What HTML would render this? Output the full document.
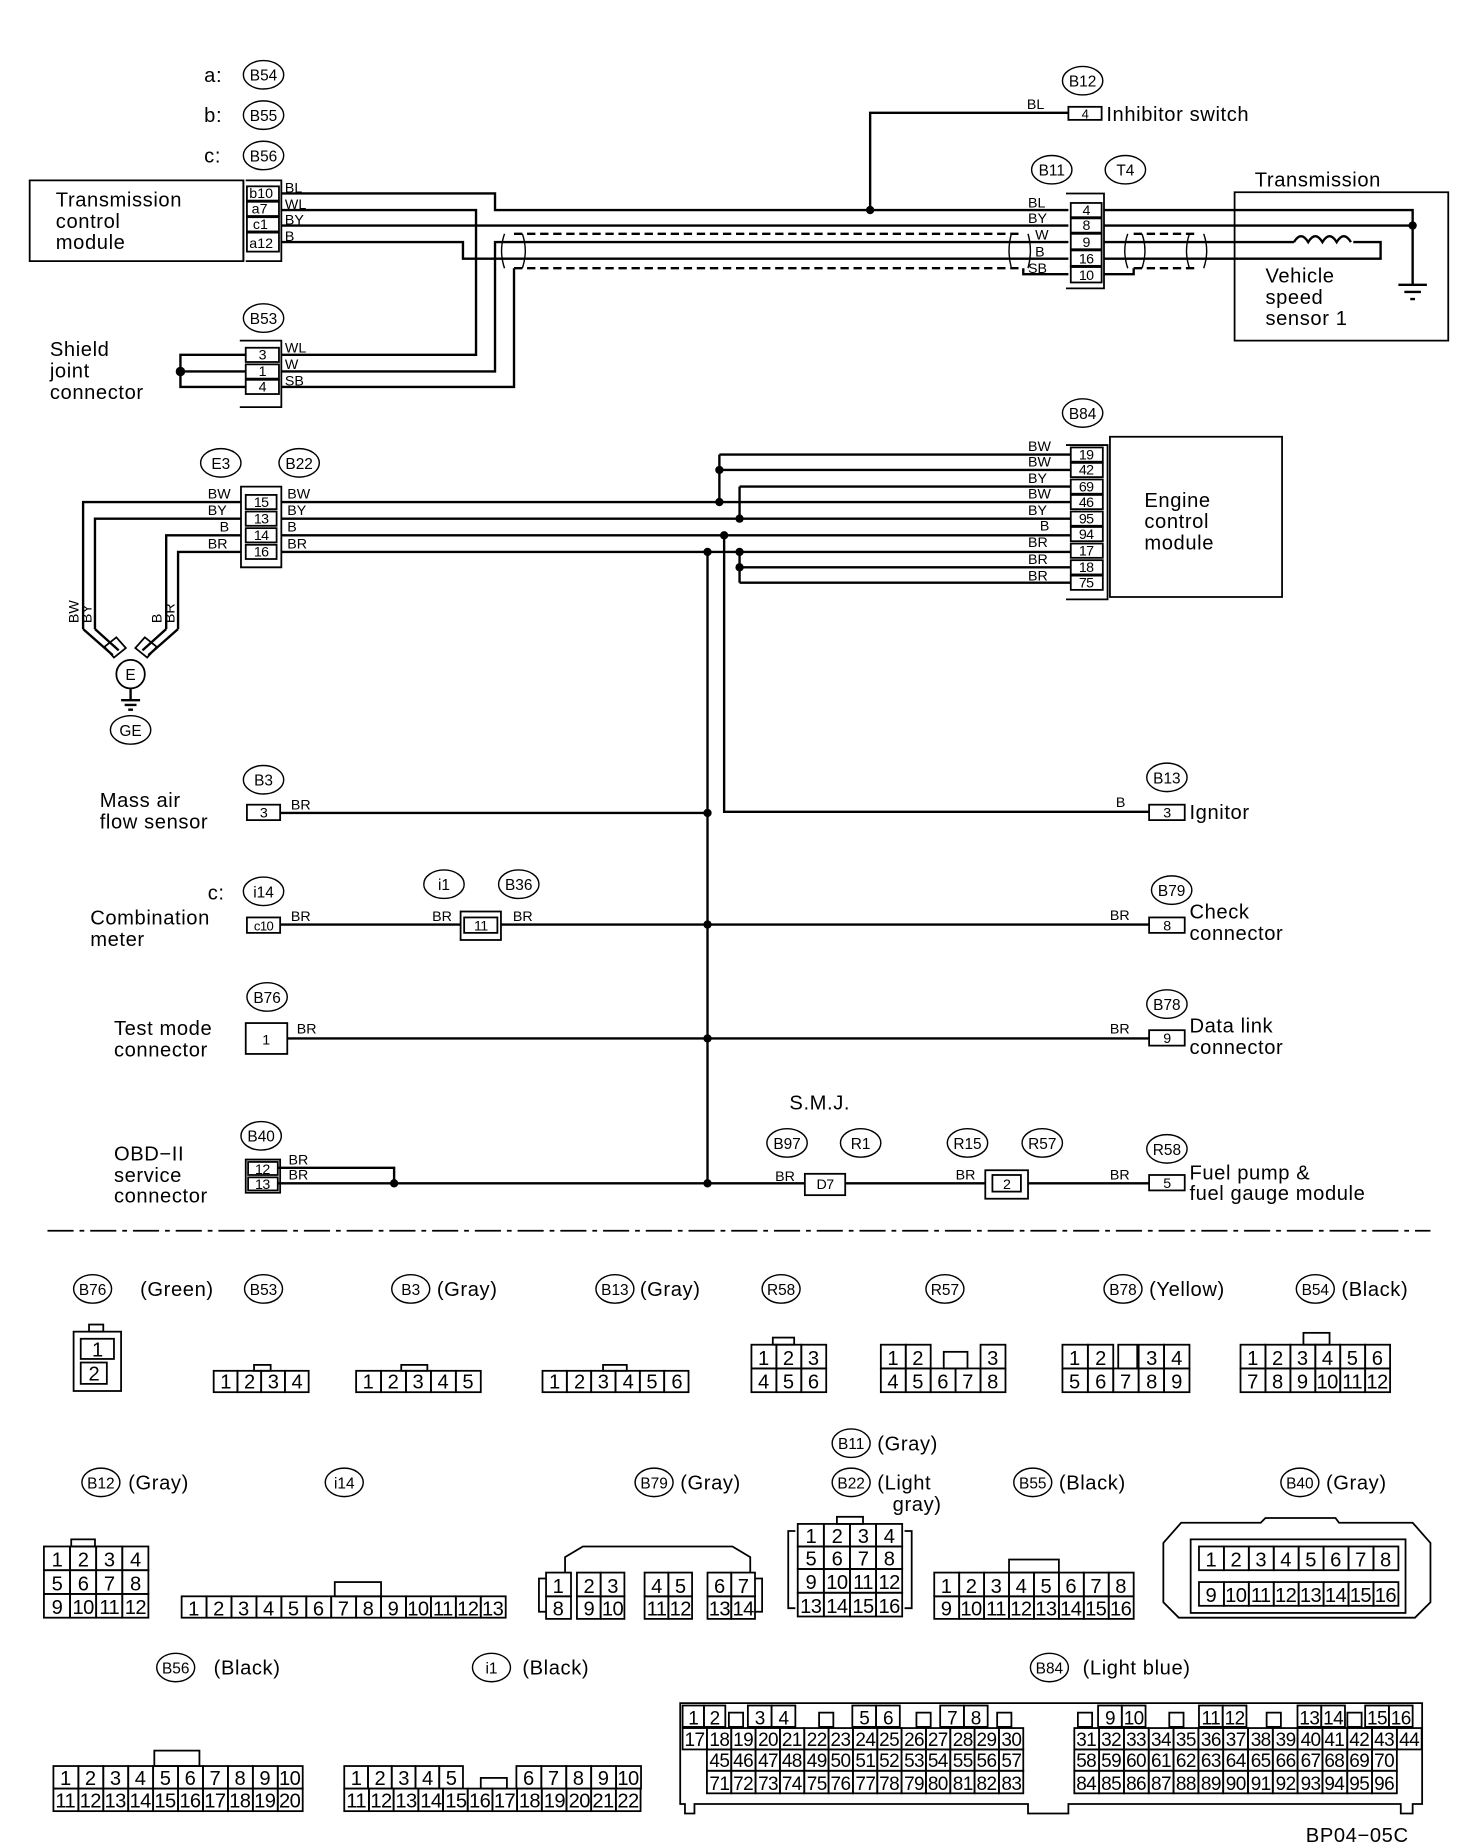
<!DOCTYPE html>
<html><head><meta charset="utf-8"><style>
html,body{margin:0;padding:0;background:#fff}
svg{display:block}
text{font-family:"Liberation Sans",sans-serif;fill:#000}
.t{font-size:17px;letter-spacing:0.5px}
.s{font-size:12px}
.e{font-size:13px;text-anchor:middle}
.n{font-size:14px;text-anchor:middle;letter-spacing:-0.5px}
.w{fill:none;stroke:#000;stroke-width:2}
.d{fill:none;stroke:#000;stroke-width:2;stroke-dasharray:7 4}
.b{fill:none;stroke:#000;stroke-width:1.5}
.c rect{fill:none;stroke:#000;stroke-width:1.5}
.l{fill:none;stroke:#000;stroke-width:1.2}
</style></head><body>
<svg width="1472" height="1842" viewBox="0 0 1240 1552" preserveAspectRatio="none" xmlns="http://www.w3.org/2000/svg">
<g class="l">
<ellipse cx="222" cy="63" rx="17" ry="12"/><ellipse cx="222" cy="97" rx="17" ry="12"/><ellipse cx="222" cy="131" rx="17" ry="12"/>
<ellipse cx="912" cy="68" rx="17" ry="12"/><ellipse cx="886" cy="143" rx="17" ry="12"/><ellipse cx="948" cy="143" rx="17" ry="12"/>
<ellipse cx="222" cy="268" rx="17" ry="12"/><ellipse cx="912" cy="348" rx="17" ry="12"/>
<ellipse cx="186" cy="390" rx="17" ry="12"/><ellipse cx="252" cy="390" rx="17" ry="12"/>
<ellipse cx="110" cy="615" rx="17" ry="12"/>
<ellipse cx="222" cy="657" rx="17" ry="12"/><ellipse cx="983" cy="655" rx="17" ry="12"/>
<ellipse cx="222" cy="751" rx="17" ry="12"/><ellipse cx="374" cy="745" rx="17" ry="12"/><ellipse cx="437" cy="745" rx="17" ry="12"/><ellipse cx="987" cy="750" rx="17" ry="12"/>
<ellipse cx="225" cy="840" rx="17" ry="12"/><ellipse cx="983" cy="846" rx="17" ry="12"/>
<ellipse cx="220" cy="957" rx="17" ry="12"/><ellipse cx="663" cy="963" rx="17" ry="12"/><ellipse cx="725" cy="963" rx="17" ry="12"/><ellipse cx="815" cy="963" rx="17" ry="12"/><ellipse cx="878" cy="963" rx="17" ry="12"/><ellipse cx="983" cy="968" rx="17" ry="12"/>
<ellipse cx="78" cy="1086" rx="16" ry="12"/><ellipse cx="222" cy="1086" rx="16" ry="12"/><ellipse cx="346" cy="1086" rx="16" ry="12"/><ellipse cx="518" cy="1086" rx="16" ry="12"/><ellipse cx="658" cy="1086" rx="16" ry="12"/><ellipse cx="796" cy="1086" rx="16" ry="12"/><ellipse cx="946" cy="1086" rx="16" ry="12"/><ellipse cx="1108" cy="1086" rx="16" ry="12"/>
<ellipse cx="85" cy="1249" rx="16" ry="12"/><ellipse cx="290" cy="1249" rx="16" ry="12"/><ellipse cx="551" cy="1249" rx="16" ry="12"/><ellipse cx="717" cy="1216" rx="16" ry="12"/><ellipse cx="717" cy="1249" rx="16" ry="12"/><ellipse cx="870" cy="1249" rx="16" ry="12"/><ellipse cx="1095" cy="1249" rx="16" ry="12"/>
<ellipse cx="148" cy="1405" rx="16" ry="12"/><ellipse cx="414" cy="1405" rx="16" ry="12"/><ellipse cx="884" cy="1405" rx="16" ry="12"/>
</g>
<g class="e">
<text x="222" y="68">B54</text><text x="222" y="102">B55</text><text x="222" y="136">B56</text>
<text x="912" y="73">B12</text><text x="886" y="148">B11</text><text x="948" y="148">T4</text>
<text x="222" y="273">B53</text><text x="912" y="353">B84</text><text x="186" y="395">E3</text><text x="252" y="395">B22</text>
<text x="110" y="620">GE</text><text x="222" y="662">B3</text><text x="983" y="660">B13</text>
<text x="222" y="756">i14</text><text x="374" y="750">i1</text><text x="437" y="750">B36</text><text x="987" y="755">B79</text>
<text x="225" y="845">B76</text><text x="983" y="851">B78</text>
<text x="220" y="962">B40</text><text x="663" y="968">B97</text><text x="725" y="968">R1</text><text x="815" y="968">R15</text><text x="878" y="968">R57</text><text x="983" y="973">R58</text>
<text x="78" y="1091">B76</text><text x="222" y="1091">B53</text><text x="346" y="1091">B3</text><text x="518" y="1091">B13</text><text x="658" y="1091">R58</text><text x="796" y="1091">R57</text><text x="946" y="1091">B78</text><text x="1108" y="1091">B54</text>
<text x="85" y="1254">B12</text><text x="290" y="1254">i14</text><text x="551" y="1254">B79</text><text x="717" y="1221">B11</text><text x="717" y="1254">B22</text><text x="870" y="1254">B55</text><text x="1095" y="1254">B40</text>
<text x="148" y="1410">B56</text><text x="414" y="1410">i1</text><text x="884" y="1410">B84</text>
</g>
<g class="t">
<text x="172" y="69">a:</text><text x="172" y="103">b:</text><text x="172" y="137">c:</text>
<text x="932" y="102">Inhibitor switch</text>
<text x="47" y="174">Transmission</text><text x="47" y="192">control</text><text x="47" y="210">module</text>
<text x="1057" y="157">Transmission</text>
<text x="1066" y="238">Vehicle</text><text x="1066" y="256">speed</text><text x="1066" y="274">sensor 1</text>
<text x="42" y="300">Shield</text><text x="42" y="318">joint</text><text x="42" y="336">connector</text>
<text x="964" y="427">Engine</text><text x="964" y="445">control</text><text x="964" y="463">module</text>
<text x="84" y="680">Mass air</text><text x="84" y="698">flow sensor</text>
<text x="1002" y="690">Ignitor</text>
<text x="175" y="758">c:</text>
<text x="76" y="779">Combination</text><text x="76" y="797">meter</text>
<text x="1002" y="774">Check</text><text x="1002" y="792">connector</text>
<text x="96" y="872">Test mode</text><text x="96" y="890">connector</text>
<text x="1002" y="870">Data link</text><text x="1002" y="888">connector</text>
<text x="96" y="978">OBD−II</text><text x="96" y="996">service</text><text x="96" y="1013">connector</text>
<text x="665" y="935">S.M.J.</text>
<text x="1002" y="994">Fuel pump &amp;</text><text x="1002" y="1011">fuel gauge module</text>
<text x="118" y="1092">(Green)</text><text x="368" y="1092">(Gray)</text><text x="539" y="1092">(Gray)</text><text x="968" y="1092">(Yellow)</text><text x="1130" y="1092">(Black)</text>
<text x="108" y="1255">(Gray)</text><text x="573" y="1255">(Gray)</text><text x="739" y="1222">(Gray)</text><text x="739" y="1255">(Light</text><text x="752" y="1273">gray)</text><text x="892" y="1255">(Black)</text><text x="1117" y="1255">(Gray)</text>
<text x="180" y="1411">(Black)</text><text x="440" y="1411">(Black)</text><text x="912" y="1411">(Light blue)</text>
<text x="1100" y="1552">BP04−05C</text>
</g>
<path class="b" d="M25 152H205V220H25Z"/>
<path class="b" d="M205 152V220M207 152H237V220H207"/>
<g class="c"><rect x="208" y="157" width="27" height="12"/><rect x="208" y="170" width="27" height="12"/><rect x="208" y="183" width="27" height="12"/><rect x="208" y="196" width="27" height="16"/></g>
<g class="s"><text x="210" y="167">b10</text><text x="212" y="180">a7</text><text x="213" y="193">c1</text><text x="210" y="209">a12</text>
<text x="240" y="162">BL</text><text x="240" y="176">WL</text><text x="240" y="189">BY</text><text x="240" y="203">B</text></g>
<path class="w" d="M237 163H417V177H900"/>
<path class="w" d="M237 177H401V299H237"/>
<path class="w" d="M237 190H900"/>
<path class="w" d="M237 204H390V218H900"/>
<path class="w" d="M237 313H417V204H900"/>
<path class="w" d="M237 326H433V226"/>
<path class="d" d="M433 197H860M433 226H860"/>
<path class="l" d="M425 197Q420 211 425 226M440 197Q445 211 440 226M852 197Q848 211 852 226M866 197Q870 211 866 226"/>
<path class="w" d="M862 226V231H900"/>
<path class="w" d="M733 177V95H900"/>
<circle cx="733" cy="177" r="3.5"/>
<text class="s" x="865" y="92">BL</text>
<rect class="b" x="900" y="90" width="28" height="11"/><text class="n" x="914" y="100" style="font-size:11px">4</text>
<path class="b" d="M898 163H930V243H898"/>
<g class="c"><rect x="902" y="171" width="26" height="12"/><rect x="902" y="184" width="26" height="12"/><rect x="902" y="197" width="26" height="13"/><rect x="902" y="211" width="26" height="13"/><rect x="902" y="225" width="26" height="13"/></g>
<g class="n" style="font-size:12px"><text x="915" y="181">4</text><text x="915" y="194">8</text><text x="915" y="208">9</text><text x="915" y="222">16</text><text x="915" y="236">10</text></g>
<g class="s"><text x="866" y="175">BL</text><text x="866" y="188">BY</text><text x="872" y="202">W</text><text x="872" y="216">B</text><text x="866" y="230">SB</text></g>
<path class="w" d="M930 177H1190V240M930 190H1190M930 204H1090M1140 204H1163V218H930"/>
<path class="w" d="M1090 204q6 -10 12 0q6 -10 12 0q6 -10 12 0q6 -10 12 0"/>
<path class="w" d="M1178 240H1202M1183 246H1197M1188 252H1192"/>
<circle cx="1190" cy="190" r="3.5"/>
<path class="d" d="M955 197H1008M955 226H1008"/>
<path class="l" d="M950 197Q945 211 950 226M962 197Q967 211 962 226M1002 197Q997 211 1002 226M1014 197Q1019 211 1014 226"/>
<path class="w" d="M930 231H955V226"/>
<path class="b" d="M1040 162H1220V287H1040Z"/>
<path class="b" d="M202 287H237V343H202"/>
<g class="c"><rect x="207" y="293" width="28" height="12"/><rect x="207" y="307" width="28" height="12"/><rect x="207" y="320" width="28" height="12"/></g>
<g class="n" style="font-size:12px"><text x="221" y="303">3</text><text x="221" y="317">1</text><text x="221" y="330">4</text></g>
<g class="s"><text x="240" y="297">WL</text><text x="240" y="311">W</text><text x="240" y="325">SB</text></g>
<path class="w" d="M207 299H152V326H207M152 313H207"/><circle cx="152" cy="313" r="4"/>
<path class="b" d="M935 368H1080V503H935Z"/>
<path class="b" d="M898 375H933V505H898"/>
<g class="c"><rect x="902" y="377" width="27" height="12"/><rect x="902" y="390" width="27" height="12"/><rect x="902" y="404" width="27" height="12"/><rect x="902" y="417" width="27" height="12"/><rect x="902" y="431" width="27" height="12"/><rect x="902" y="444" width="27" height="12"/><rect x="902" y="458" width="27" height="12"/><rect x="902" y="472" width="27" height="12"/><rect x="902" y="485" width="27" height="12"/></g>
<g class="n" style="font-size:12px"><text x="915" y="387">19</text><text x="915" y="400">42</text><text x="915" y="414">69</text><text x="915" y="427">46</text><text x="915" y="441">95</text><text x="915" y="454">94</text><text x="915" y="468">17</text><text x="915" y="482">18</text><text x="915" y="495">75</text></g>
<g class="s"><text x="866" y="380">BW</text><text x="866" y="393">BW</text><text x="866" y="407">BY</text><text x="866" y="420">BW</text><text x="866" y="434">BY</text><text x="876" y="447">B</text><text x="866" y="461">BR</text><text x="866" y="475">BR</text><text x="866" y="489">BR</text></g>
<path class="w" d="M606 383H902M606 396H902M623 410H902M606 423H902M623 437H902M237 451H902M623 465H902M623 478H902M623 491H902"/>
<path class="w" d="M606 383V423M623 410V437M623 465V491M237 423H606M237 437H623M237 465H623"/>
<circle cx="606" cy="396" r="3.5"/><circle cx="606" cy="423" r="3.5"/><circle cx="623" cy="437" r="3.5"/><circle cx="610" cy="451" r="3.5"/><circle cx="623" cy="465" r="3.5"/><circle cx="623" cy="478" r="3.5"/><circle cx="596" cy="465" r="3.5"/>
<path class="b" d="M203 410H237V478H203Z"/>
<g class="c"><rect x="207" y="417" width="26" height="12"/><rect x="207" y="431" width="26" height="12"/><rect x="207" y="445" width="26" height="12"/><rect x="207" y="459" width="26" height="12"/></g>
<g class="n" style="font-size:12px"><text x="220" y="427">15</text><text x="220" y="441">13</text><text x="220" y="455">14</text><text x="220" y="469">16</text></g>
<g class="s"><text x="175" y="420">BW</text><text x="175" y="434">BY</text><text x="185" y="448">B</text><text x="175" y="462">BR</text>
<text x="242" y="420">BW</text><text x="242" y="434">BY</text><text x="242" y="448">B</text><text x="242" y="462">BR</text></g>
<path class="w" d="M203 423H70V530M203 437H80V530M203 451H140V530M203 465H150V530"/>
<g class="s"><text transform="translate(66 525) rotate(-90)">BW</text><text transform="translate(77 525) rotate(-90)">BY</text><text transform="translate(136 525) rotate(-90)">B</text><text transform="translate(147 525) rotate(-90)">BR</text></g>
<path class="w" d="M70 530L95 552M80 530L100 548M140 530L120 548M150 530L125 552"/>
<path class="b" d="M88 545l10 -8l8 9l-10 8zM132 545l-10 -8l-8 9l10 8z"/>
<circle class="b" cx="110" cy="568" r="12"/><text class="e" x="110" y="573">E</text>
<path class="w" d="M110 580V590M102 590H118M105 594H115M108 598H112"/>
<path class="w" d="M596 465V997M610 451V684H968"/>
<circle cx="596" cy="685" r="3.5"/><circle cx="596" cy="779" r="3.5"/><circle cx="596" cy="875" r="3.5"/><circle cx="596" cy="997" r="3.5"/>
<rect class="b" x="208" y="678" width="28" height="13"/><text class="n" x="222" y="689" style="font-size:12px">3</text>
<text class="s" x="245" y="682">BR</text><path class="w" d="M236 685H596"/>
<text class="s" x="940" y="680">B</text><rect class="b" x="968" y="678" width="30" height="13"/><text class="n" x="983" y="689" style="font-size:12px">3</text>
<rect class="b" x="208" y="773" width="28" height="13"/><text class="n" x="222" y="784" style="font-size:11px">c10</text>
<text class="s" x="245" y="776">BR</text><path class="w" d="M236 779H388M422 779H968"/>
<rect class="b" x="388" y="768" width="34" height="24"/><rect class="b" x="391" y="773" width="28" height="13"/><text class="n" x="405" y="784" style="font-size:12px">11</text>
<text class="s" x="364" y="776">BR</text><text class="s" x="432" y="776">BR</text><text class="s" x="935" y="775">BR</text>
<rect class="b" x="968" y="773" width="30" height="13"/><text class="n" x="983" y="784" style="font-size:12px">8</text>
<rect class="b" x="207" y="862" width="35" height="26"/><text class="n" x="224" y="880" style="font-size:12px">1</text>
<text class="s" x="250" y="871">BR</text><path class="w" d="M242 875H968"/><text class="s" x="935" y="871">BR</text>
<rect class="b" x="968" y="868" width="30" height="13"/><text class="n" x="983" y="879" style="font-size:12px">9</text>
<path class="b" d="M207 977H236V1005H207Z"/>
<g class="c"><rect x="209" y="979" width="25" height="11"/><rect x="209" y="992" width="25" height="11"/></g>
<g class="n" style="font-size:12px"><text x="221" y="989">12</text><text x="221" y="1002">13</text></g>
<g class="s"><text x="243" y="981">BR</text><text x="243" y="994">BR</text></g>
<path class="w" d="M234 984H332V997M234 997H678"/><circle cx="332" cy="997" r="3.5"/>
<text class="s" x="653" y="995">BR</text>
<rect class="b" x="678" y="989" width="34" height="18"/><text class="n" x="695" y="1002" style="font-size:12px">D7</text>
<path class="w" d="M712 997H830M866 997H968"/>
<text class="s" x="805" y="994">BR</text><text class="s" x="935" y="994">BR</text>
<rect class="b" x="830" y="986" width="36" height="24"/><rect class="b" x="836" y="990" width="24" height="14"/><text class="n" x="848" y="1002" style="font-size:12px">2</text>
<rect class="b" x="968" y="990" width="30" height="13"/><text class="n" x="983" y="1001" style="font-size:12px">5</text>
<path d="M40 1037H1205" stroke="#000" stroke-width="1.5" stroke-dasharray="22 5 4 5"/>

<g class="c">
<rect x="62" y="1122" width="40" height="50"/><rect x="68" y="1128" width="28" height="17"/><rect x="68" y="1148" width="22" height="18"/><rect x="75" y="1116" width="12" height="6"/>
<rect x="214" y="1150" width="14" height="5"/>
<rect x="180" y="1155" width="20" height="18"/><rect x="200" y="1155" width="20" height="18"/><rect x="220" y="1155" width="20" height="18"/><rect x="240" y="1155" width="20" height="18"/>
<rect x="338" y="1150" width="22" height="5"/>
<rect x="300" y="1155" width="21" height="18"/><rect x="321" y="1155" width="21" height="18"/><rect x="342" y="1155" width="21" height="18"/><rect x="363" y="1155" width="21" height="18"/><rect x="384" y="1155" width="21" height="18"/>
<rect x="508" y="1150" width="20" height="5"/>
<rect x="457" y="1155" width="20.5" height="18"/><rect x="477.5" y="1155" width="20.5" height="18"/><rect x="498" y="1155" width="20.5" height="18"/><rect x="518.5" y="1155" width="20.5" height="18"/><rect x="539" y="1155" width="20.5" height="18"/><rect x="559.5" y="1155" width="20.5" height="18"/>
<rect x="651" y="1127" width="18" height="6"/>
<rect x="633" y="1133" width="21" height="20"/><rect x="654" y="1133" width="21" height="20"/><rect x="675" y="1133" width="21" height="20"/>
<rect x="633" y="1153" width="21" height="20"/><rect x="654" y="1153" width="21" height="20"/><rect x="675" y="1153" width="21" height="20"/>
<rect x="742" y="1133" width="21" height="20"/><rect x="763" y="1133" width="21" height="20"/><rect x="795" y="1139" width="20" height="14"/><rect x="826" y="1133" width="21" height="20"/>
<rect x="742" y="1153" width="21" height="20"/><rect x="763" y="1153" width="21" height="20"/><rect x="784" y="1153" width="21" height="20"/><rect x="805" y="1153" width="21" height="20"/><rect x="826" y="1153" width="21" height="20"/>
<rect x="895" y="1133" width="21.4" height="20"/><rect x="916.4" y="1133" width="21.4" height="20"/><rect x="942" y="1133" width="16" height="20"/><rect x="959.2" y="1133" width="21.4" height="20"/><rect x="980.6" y="1133" width="21.4" height="20"/>
<rect x="895" y="1153" width="21.4" height="20"/><rect x="916.4" y="1153" width="21.4" height="20"/><rect x="937.8" y="1153" width="21.4" height="20"/><rect x="959.2" y="1153" width="21.4" height="20"/><rect x="980.6" y="1153" width="21.4" height="20"/>
<rect x="1098" y="1123" width="22" height="10"/>
<rect x="1045" y="1133" width="21" height="20"/><rect x="1066" y="1133" width="21" height="20"/><rect x="1087" y="1133" width="21" height="20"/><rect x="1108" y="1133" width="21" height="20"/><rect x="1129" y="1133" width="21" height="20"/><rect x="1150" y="1133" width="21" height="20"/>
<rect x="1045" y="1153" width="21" height="20"/><rect x="1066" y="1153" width="21" height="20"/><rect x="1087" y="1153" width="21" height="20"/><rect x="1108" y="1153" width="21" height="20"/><rect x="1129" y="1153" width="21" height="20"/><rect x="1150" y="1153" width="21" height="20"/>
</g>
<g class="n" style="font-size:17px">
<text x="82" y="1143">1</text><text x="79" y="1163">2</text>
<text x="190" y="1170">1</text><text x="210" y="1170">2</text><text x="230" y="1170">3</text><text x="250" y="1170">4</text>
<text x="310" y="1170">1</text><text x="331" y="1170">2</text><text x="352" y="1170">3</text><text x="373" y="1170">4</text><text x="394" y="1170">5</text>
<text x="467" y="1170">1</text><text x="488" y="1170">2</text><text x="508" y="1170">3</text><text x="529" y="1170">4</text><text x="549" y="1170">5</text><text x="570" y="1170">6</text>
<text x="643" y="1150">1</text><text x="664" y="1150">2</text><text x="685" y="1150">3</text><text x="643" y="1170">4</text><text x="664" y="1170">5</text><text x="685" y="1170">6</text>
<text x="752" y="1150">1</text><text x="773" y="1150">2</text><text x="836" y="1150">3</text><text x="752" y="1170">4</text><text x="773" y="1170">5</text><text x="794" y="1170">6</text><text x="815" y="1170">7</text><text x="836" y="1170">8</text>
<text x="905" y="1150">1</text><text x="927" y="1150">2</text><text x="970" y="1150">3</text><text x="991" y="1150">4</text><text x="905" y="1170">5</text><text x="927" y="1170">6</text><text x="948" y="1170">7</text><text x="970" y="1170">8</text><text x="991" y="1170">9</text>
<text x="1055" y="1150">1</text><text x="1076" y="1150">2</text><text x="1097" y="1150">3</text><text x="1118" y="1150">4</text><text x="1139" y="1150">5</text><text x="1160" y="1150">6</text>
<text x="1055" y="1170">7</text><text x="1076" y="1170">8</text><text x="1097" y="1170">9</text><text x="1118" y="1170">10</text><text x="1139" y="1170">11</text><text x="1160" y="1170">12</text>
</g>

<g class="c">
<rect x="60" y="1297" width="20" height="6"/>
<rect x="37" y="1303" width="22" height="20"/><rect x="59" y="1303" width="22" height="20"/><rect x="81" y="1303" width="22" height="20"/><rect x="103" y="1303" width="22" height="20"/>
<rect x="37" y="1323" width="22" height="20"/><rect x="59" y="1323" width="22" height="20"/><rect x="81" y="1323" width="22" height="20"/><rect x="103" y="1323" width="22" height="20"/>
<rect x="37" y="1343" width="22" height="20"/><rect x="59" y="1343" width="22" height="20"/><rect x="81" y="1343" width="22" height="20"/><rect x="103" y="1343" width="22" height="20"/>
<rect x="282" y="1333" width="39" height="12"/>
<rect x="153" y="1345" width="21" height="18"/><rect x="174" y="1345" width="21" height="18"/><rect x="195" y="1345" width="21" height="18"/><rect x="216" y="1345" width="21" height="18"/><rect x="237" y="1345" width="21" height="18"/><rect x="258" y="1345" width="21" height="18"/><rect x="279" y="1345" width="21" height="18"/><rect x="300" y="1345" width="21" height="18"/><rect x="321" y="1345" width="21" height="18"/><rect x="342" y="1345" width="21" height="18"/><rect x="363" y="1345" width="21" height="18"/><rect x="384" y="1345" width="21" height="18"/><rect x="405" y="1345" width="21" height="18"/>
<rect x="460" y="1325" width="21" height="20"/><rect x="486" y="1325" width="20" height="20"/><rect x="506" y="1325" width="20" height="20"/><rect x="543" y="1325" width="20" height="20"/><rect x="563" y="1325" width="20" height="20"/><rect x="596" y="1325" width="20" height="20"/><rect x="616" y="1325" width="20" height="20"/>
<rect x="460" y="1345" width="21" height="19"/><rect x="486" y="1345" width="20" height="19"/><rect x="506" y="1345" width="20" height="19"/><rect x="543" y="1345" width="20" height="19"/><rect x="563" y="1345" width="20" height="19"/><rect x="596" y="1345" width="20" height="19"/><rect x="616" y="1345" width="20" height="19"/>
<rect x="705" y="1278" width="22" height="6"/>
<rect x="672" y="1284" width="22" height="19"/><rect x="694" y="1284" width="22" height="19"/><rect x="716" y="1284" width="22" height="19"/><rect x="738" y="1284" width="22" height="19"/>
<rect x="672" y="1303" width="22" height="19"/><rect x="694" y="1303" width="22" height="19"/><rect x="716" y="1303" width="22" height="19"/><rect x="738" y="1303" width="22" height="19"/>
<rect x="672" y="1322" width="22" height="20"/><rect x="694" y="1322" width="22" height="20"/><rect x="716" y="1322" width="22" height="20"/><rect x="738" y="1322" width="22" height="20"/>
<rect x="672" y="1342" width="22" height="20"/><rect x="694" y="1342" width="22" height="20"/><rect x="716" y="1342" width="22" height="20"/><rect x="738" y="1342" width="22" height="20"/>
<rect x="850" y="1314" width="42" height="11"/>
<rect x="787" y="1325" width="21" height="20"/><rect x="808" y="1325" width="21" height="20"/><rect x="829" y="1325" width="21" height="20"/><rect x="850" y="1325" width="21" height="20"/><rect x="871" y="1325" width="21" height="20"/><rect x="892" y="1325" width="21" height="20"/><rect x="913" y="1325" width="21" height="20"/><rect x="934" y="1325" width="21" height="20"/>
<rect x="787" y="1345" width="21" height="19"/><rect x="808" y="1345" width="21" height="19"/><rect x="829" y="1345" width="21" height="19"/><rect x="850" y="1345" width="21" height="19"/><rect x="871" y="1345" width="21" height="19"/><rect x="892" y="1345" width="21" height="19"/><rect x="913" y="1345" width="21" height="19"/><rect x="934" y="1345" width="21" height="19"/>
<rect x="1003" y="1297" width="181" height="62"/>
<rect x="1010" y="1303" width="21" height="20"/><rect x="1031" y="1303" width="21" height="20"/><rect x="1052" y="1303" width="21" height="20"/><rect x="1073" y="1303" width="21" height="20"/><rect x="1094" y="1303" width="21" height="20"/><rect x="1115" y="1303" width="21" height="20"/><rect x="1136" y="1303" width="21" height="20"/><rect x="1157" y="1303" width="21" height="20"/>
<rect x="1010" y="1333" width="21" height="20"/><rect x="1031" y="1333" width="21" height="20"/><rect x="1052" y="1333" width="21" height="20"/><rect x="1073" y="1333" width="21" height="20"/><rect x="1094" y="1333" width="21" height="20"/><rect x="1115" y="1333" width="21" height="20"/><rect x="1136" y="1333" width="21" height="20"/><rect x="1157" y="1333" width="21" height="20"/>
</g>
<path class="b" d="M476 1325V1312L491 1303H617L632 1312V1325M636 1330H642V1358H636M460 1330H454V1358H460M670 1290H664V1355H670M762 1290H768V1355H762"/>
<path class="b" d="M980 1300L995 1283H1062L1066 1279H1125L1128 1283H1190L1205 1300V1350L1192 1363H993L980 1350Z"/>
<g class="n" style="font-size:17px">
<text x="48" y="1320">1</text><text x="70" y="1320">2</text><text x="92" y="1320">3</text><text x="114" y="1320">4</text>
<text x="48" y="1340">5</text><text x="70" y="1340">6</text><text x="92" y="1340">7</text><text x="114" y="1340">8</text>
<text x="48" y="1360">9</text><text x="70" y="1360">10</text><text x="92" y="1360">11</text><text x="114" y="1360">12</text>
<text x="163" y="1361">1</text><text x="184" y="1361">2</text><text x="205" y="1361">3</text><text x="226" y="1361">4</text><text x="247" y="1361">5</text><text x="268" y="1361">6</text><text x="289" y="1361">7</text><text x="310" y="1361">8</text><text x="331" y="1361">9</text><text x="352" y="1361">10</text><text x="373" y="1361">11</text><text x="394" y="1361">12</text><text x="415" y="1361">13</text>
<text x="470" y="1342">1</text><text x="496" y="1342">2</text><text x="516" y="1342">3</text><text x="553" y="1342">4</text><text x="573" y="1342">5</text><text x="606" y="1342">6</text><text x="626" y="1342">7</text>
<text x="470" y="1361">8</text><text x="496" y="1361">9</text><text x="516" y="1361">10</text><text x="553" y="1361">11</text><text x="573" y="1361">12</text><text x="606" y="1361">13</text><text x="626" y="1361">14</text>
<text x="683" y="1300">1</text><text x="705" y="1300">2</text><text x="727" y="1300">3</text><text x="749" y="1300">4</text>
<text x="683" y="1319">5</text><text x="705" y="1319">6</text><text x="727" y="1319">7</text><text x="749" y="1319">8</text>
<text x="683" y="1339">9</text><text x="705" y="1339">10</text><text x="727" y="1339">11</text><text x="749" y="1339">12</text>
<text x="683" y="1359">13</text><text x="705" y="1359">14</text><text x="727" y="1359">15</text><text x="749" y="1359">16</text>
<text x="797" y="1342">1</text><text x="818" y="1342">2</text><text x="839" y="1342">3</text><text x="860" y="1342">4</text><text x="881" y="1342">5</text><text x="902" y="1342">6</text><text x="923" y="1342">7</text><text x="944" y="1342">8</text>
<text x="797" y="1361">9</text><text x="818" y="1361">10</text><text x="839" y="1361">11</text><text x="860" y="1361">12</text><text x="881" y="1361">13</text><text x="902" y="1361">14</text><text x="923" y="1361">15</text><text x="944" y="1361">16</text>
<text x="1020" y="1320">1</text><text x="1041" y="1320">2</text><text x="1062" y="1320">3</text><text x="1083" y="1320">4</text><text x="1104" y="1320">5</text><text x="1125" y="1320">6</text><text x="1146" y="1320">7</text><text x="1167" y="1320">8</text>
<text x="1020" y="1350">9</text><text x="1041" y="1350">10</text><text x="1062" y="1350">11</text><text x="1083" y="1350">12</text><text x="1104" y="1350">13</text><text x="1125" y="1350">14</text><text x="1146" y="1350">15</text><text x="1167" y="1350">16</text>
</g>

<g class="c">
<rect x="130" y="1475" width="38" height="13"/>
<rect x="45" y="1488" width="21" height="19"/><rect x="66" y="1488" width="21" height="19"/><rect x="87" y="1488" width="21" height="19"/><rect x="108" y="1488" width="21" height="19"/><rect x="129" y="1488" width="21" height="19"/><rect x="150" y="1488" width="21" height="19"/><rect x="171" y="1488" width="21" height="19"/><rect x="192" y="1488" width="21" height="19"/><rect x="213" y="1488" width="21" height="19"/><rect x="234" y="1488" width="21" height="19"/>
<rect x="45" y="1507" width="21" height="19"/><rect x="66" y="1507" width="21" height="19"/><rect x="87" y="1507" width="21" height="19"/><rect x="108" y="1507" width="21" height="19"/><rect x="129" y="1507" width="21" height="19"/><rect x="150" y="1507" width="21" height="19"/><rect x="171" y="1507" width="21" height="19"/><rect x="192" y="1507" width="21" height="19"/><rect x="213" y="1507" width="21" height="19"/><rect x="234" y="1507" width="21" height="19"/>
<rect x="290" y="1488" width="20" height="19"/><rect x="310" y="1488" width="20" height="19"/><rect x="330" y="1488" width="20" height="19"/><rect x="350" y="1488" width="20" height="19"/><rect x="370" y="1488" width="20" height="19"/><rect x="405" y="1498" width="22" height="9"/><rect x="435" y="1488" width="21" height="19"/><rect x="456" y="1488" width="21" height="19"/><rect x="477" y="1488" width="21" height="19"/><rect x="498" y="1488" width="21" height="19"/><rect x="519" y="1488" width="21" height="19"/>
<rect x="290" y="1507" width="20.8" height="19"/><rect x="310.8" y="1507" width="20.8" height="19"/><rect x="331.6" y="1507" width="20.8" height="19"/><rect x="352.4" y="1507" width="20.8" height="19"/><rect x="373.2" y="1507" width="20.8" height="19"/><rect x="394" y="1507" width="20.8" height="19"/><rect x="414.8" y="1507" width="20.8" height="19"/><rect x="435.6" y="1507" width="20.8" height="19"/><rect x="456.4" y="1507" width="20.8" height="19"/><rect x="477.2" y="1507" width="20.8" height="19"/><rect x="498" y="1507" width="20.8" height="19"/><rect x="518.8" y="1507" width="20.8" height="19"/>
</g>
<g class="n" style="font-size:17px">
<text x="55" y="1504">1</text><text x="76" y="1504">2</text><text x="97" y="1504">3</text><text x="118" y="1504">4</text><text x="139" y="1504">5</text><text x="160" y="1504">6</text><text x="181" y="1504">7</text><text x="202" y="1504">8</text><text x="223" y="1504">9</text><text x="244" y="1504">10</text>
<text x="55" y="1523">11</text><text x="76" y="1523">12</text><text x="97" y="1523">13</text><text x="118" y="1523">14</text><text x="139" y="1523">15</text><text x="160" y="1523">16</text><text x="181" y="1523">17</text><text x="202" y="1523">18</text><text x="223" y="1523">19</text><text x="244" y="1523">20</text>
<text x="300" y="1504">1</text><text x="320" y="1504">2</text><text x="340" y="1504">3</text><text x="360" y="1504">4</text><text x="380" y="1504">5</text><text x="445" y="1504">6</text><text x="466" y="1504">7</text><text x="487" y="1504">8</text><text x="508" y="1504">9</text><text x="529" y="1504">10</text>
<text x="300" y="1523">11</text><text x="321" y="1523">12</text><text x="342" y="1523">13</text><text x="363" y="1523">14</text><text x="384" y="1523">15</text><text x="404" y="1523">16</text><text x="425" y="1523">17</text><text x="446" y="1523">18</text><text x="467" y="1523">19</text><text x="488" y="1523">20</text><text x="508" y="1523">21</text><text x="529" y="1523">22</text>
</g>

<path class="b" d="M573 1435H1198V1520H1190V1528H1180V1520H900V1528H866V1520H585V1528H577V1520H573Z"/>
<g class="c">
<rect x="575" y="1437" width="18" height="18"/><rect x="593" y="1437" width="18" height="18"/><rect x="614" y="1443" width="12" height="12"/><rect x="630" y="1437" width="20" height="18"/><rect x="650" y="1437" width="20" height="18"/><rect x="690" y="1443" width="12" height="12"/><rect x="718" y="1437" width="20" height="18"/><rect x="738" y="1437" width="20" height="18"/><rect x="772" y="1443" width="12" height="12"/><rect x="792" y="1437" width="20" height="18"/><rect x="812" y="1437" width="20" height="18"/><rect x="840" y="1443" width="12" height="12"/>
<rect x="908" y="1443" width="12" height="12"/><rect x="925" y="1437" width="20" height="18"/><rect x="945" y="1437" width="20" height="18"/><rect x="985" y="1443" width="12" height="12"/><rect x="1010" y="1437" width="20" height="18"/><rect x="1030" y="1437" width="20" height="18"/><rect x="1067" y="1443" width="12" height="12"/><rect x="1093" y="1437" width="20" height="18"/><rect x="1113" y="1437" width="20" height="18"/><rect x="1135" y="1443" width="12" height="12"/><rect x="1150" y="1437" width="20" height="18"/><rect x="1170" y="1437" width="20" height="18"/>
</g>
<g class="c">
<rect x="575" y="1456" width="20.5" height="18"/><rect x="595.5" y="1456" width="20.5" height="18"/><rect x="616" y="1456" width="20.5" height="18"/><rect x="636.5" y="1456" width="20.5" height="18"/><rect x="657" y="1456" width="20.5" height="18"/><rect x="677.5" y="1456" width="20.5" height="18"/><rect x="698" y="1456" width="20.5" height="18"/><rect x="718.5" y="1456" width="20.5" height="18"/><rect x="739" y="1456" width="20.5" height="18"/><rect x="759.5" y="1456" width="20.5" height="18"/><rect x="780" y="1456" width="20.5" height="18"/><rect x="800.5" y="1456" width="20.5" height="18"/><rect x="821" y="1456" width="20.5" height="18"/><rect x="841.5" y="1456" width="20.5" height="18"/>
<rect x="905" y="1456" width="20.9" height="18"/><rect x="925.9" y="1456" width="20.9" height="18"/><rect x="946.8" y="1456" width="20.9" height="18"/><rect x="967.7" y="1456" width="20.9" height="18"/><rect x="988.6" y="1456" width="20.9" height="18"/><rect x="1009.5" y="1456" width="20.9" height="18"/><rect x="1030.4" y="1456" width="20.9" height="18"/><rect x="1051.3" y="1456" width="20.9" height="18"/><rect x="1072.2" y="1456" width="20.9" height="18"/><rect x="1093.1" y="1456" width="20.9" height="18"/><rect x="1114" y="1456" width="20.9" height="18"/><rect x="1134.9" y="1456" width="20.9" height="18"/><rect x="1155.8" y="1456" width="20.9" height="18"/><rect x="1176.7" y="1456" width="20.9" height="18"/>
<rect x="595.5" y="1474" width="20.5" height="18"/><rect x="616" y="1474" width="20.5" height="18"/><rect x="636.5" y="1474" width="20.5" height="18"/><rect x="657" y="1474" width="20.5" height="18"/><rect x="677.5" y="1474" width="20.5" height="18"/><rect x="698" y="1474" width="20.5" height="18"/><rect x="718.5" y="1474" width="20.5" height="18"/><rect x="739" y="1474" width="20.5" height="18"/><rect x="759.5" y="1474" width="20.5" height="18"/><rect x="780" y="1474" width="20.5" height="18"/><rect x="800.5" y="1474" width="20.5" height="18"/><rect x="821" y="1474" width="20.5" height="18"/><rect x="841.5" y="1474" width="20.5" height="18"/>
<rect x="905" y="1474" width="20.9" height="18"/><rect x="925.9" y="1474" width="20.9" height="18"/><rect x="946.8" y="1474" width="20.9" height="18"/><rect x="967.7" y="1474" width="20.9" height="18"/><rect x="988.6" y="1474" width="20.9" height="18"/><rect x="1009.5" y="1474" width="20.9" height="18"/><rect x="1030.4" y="1474" width="20.9" height="18"/><rect x="1051.3" y="1474" width="20.9" height="18"/><rect x="1072.2" y="1474" width="20.9" height="18"/><rect x="1093.1" y="1474" width="20.9" height="18"/><rect x="1114" y="1474" width="20.9" height="18"/><rect x="1134.9" y="1474" width="20.9" height="18"/><rect x="1155.8" y="1474" width="20.9" height="18"/>
<rect x="595.5" y="1492" width="20.5" height="19"/><rect x="616" y="1492" width="20.5" height="19"/><rect x="636.5" y="1492" width="20.5" height="19"/><rect x="657" y="1492" width="20.5" height="19"/><rect x="677.5" y="1492" width="20.5" height="19"/><rect x="698" y="1492" width="20.5" height="19"/><rect x="718.5" y="1492" width="20.5" height="19"/><rect x="739" y="1492" width="20.5" height="19"/><rect x="759.5" y="1492" width="20.5" height="19"/><rect x="780" y="1492" width="20.5" height="19"/><rect x="800.5" y="1492" width="20.5" height="19"/><rect x="821" y="1492" width="20.5" height="19"/><rect x="841.5" y="1492" width="20.5" height="19"/>
<rect x="905" y="1492" width="20.9" height="19"/><rect x="925.9" y="1492" width="20.9" height="19"/><rect x="946.8" y="1492" width="20.9" height="19"/><rect x="967.7" y="1492" width="20.9" height="19"/><rect x="988.6" y="1492" width="20.9" height="19"/><rect x="1009.5" y="1492" width="20.9" height="19"/><rect x="1030.4" y="1492" width="20.9" height="19"/><rect x="1051.3" y="1492" width="20.9" height="19"/><rect x="1072.2" y="1492" width="20.9" height="19"/><rect x="1093.1" y="1492" width="20.9" height="19"/><rect x="1114" y="1492" width="20.9" height="19"/><rect x="1134.9" y="1492" width="20.9" height="19"/><rect x="1155.8" y="1492" width="20.9" height="19"/>
</g>
<g class="n" style="font-size:16px">
<text x="584" y="1453">1</text><text x="602" y="1453">2</text><text x="640" y="1453">3</text><text x="660" y="1453">4</text><text x="728" y="1453">5</text><text x="748" y="1453">6</text><text x="802" y="1453">7</text><text x="822" y="1453">8</text>
<text x="935" y="1453">9</text><text x="955" y="1453">10</text><text x="1020" y="1453">11</text><text x="1040" y="1453">12</text><text x="1103" y="1453">13</text><text x="1123" y="1453">14</text><text x="1160" y="1453">15</text><text x="1180" y="1453">16</text>
<text x="585" y="1471">17</text><text x="606" y="1471">18</text><text x="626" y="1471">19</text><text x="647" y="1471">20</text><text x="667" y="1471">21</text><text x="688" y="1471">22</text><text x="708" y="1471">23</text><text x="729" y="1471">24</text><text x="749" y="1471">25</text><text x="770" y="1471">26</text><text x="790" y="1471">27</text><text x="811" y="1471">28</text><text x="831" y="1471">29</text><text x="852" y="1471">30</text>
<text x="915" y="1471">31</text><text x="936" y="1471">32</text><text x="957" y="1471">33</text><text x="978" y="1471">34</text><text x="999" y="1471">35</text><text x="1020" y="1471">36</text><text x="1041" y="1471">37</text><text x="1062" y="1471">38</text><text x="1083" y="1471">39</text><text x="1104" y="1471">40</text><text x="1124" y="1471">41</text><text x="1145" y="1471">42</text><text x="1166" y="1471">43</text><text x="1187" y="1471">44</text>
<text x="606" y="1489">45</text><text x="626" y="1489">46</text><text x="647" y="1489">47</text><text x="667" y="1489">48</text><text x="688" y="1489">49</text><text x="708" y="1489">50</text><text x="729" y="1489">51</text><text x="749" y="1489">52</text><text x="770" y="1489">53</text><text x="790" y="1489">54</text><text x="811" y="1489">55</text><text x="831" y="1489">56</text><text x="852" y="1489">57</text>
<text x="915" y="1489">58</text><text x="936" y="1489">59</text><text x="957" y="1489">60</text><text x="978" y="1489">61</text><text x="999" y="1489">62</text><text x="1020" y="1489">63</text><text x="1041" y="1489">64</text><text x="1062" y="1489">65</text><text x="1083" y="1489">66</text><text x="1104" y="1489">67</text><text x="1124" y="1489">68</text><text x="1145" y="1489">69</text><text x="1166" y="1489">70</text>
<text x="606" y="1508">71</text><text x="626" y="1508">72</text><text x="647" y="1508">73</text><text x="667" y="1508">74</text><text x="688" y="1508">75</text><text x="708" y="1508">76</text><text x="729" y="1508">77</text><text x="749" y="1508">78</text><text x="770" y="1508">79</text><text x="790" y="1508">80</text><text x="811" y="1508">81</text><text x="831" y="1508">82</text><text x="852" y="1508">83</text>
<text x="915" y="1508">84</text><text x="936" y="1508">85</text><text x="957" y="1508">86</text><text x="978" y="1508">87</text><text x="999" y="1508">88</text><text x="1020" y="1508">89</text><text x="1041" y="1508">90</text><text x="1062" y="1508">91</text><text x="1083" y="1508">92</text><text x="1104" y="1508">93</text><text x="1124" y="1508">94</text><text x="1145" y="1508">95</text><text x="1166" y="1508">96</text>
</g>
</svg>
</body></html>
